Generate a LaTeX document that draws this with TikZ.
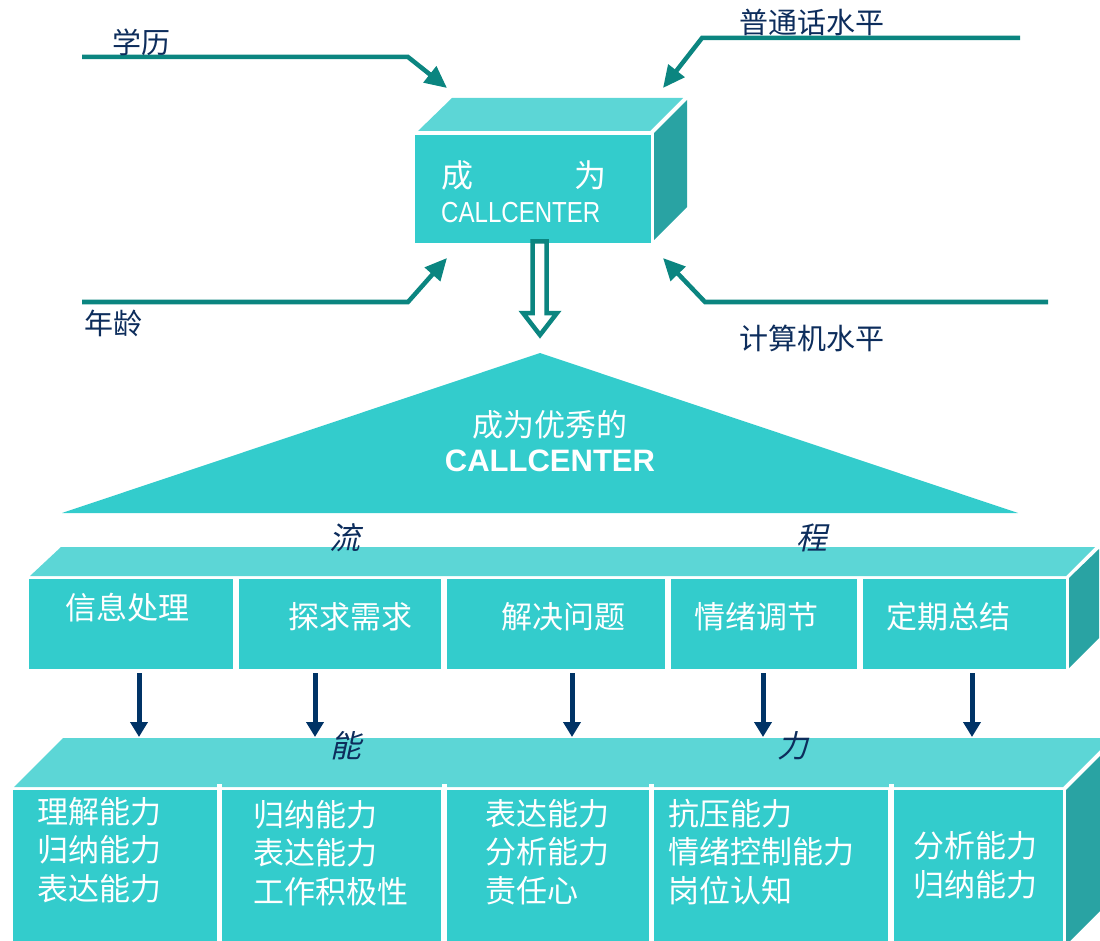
\documentclass[tikz,border=0pt]{standalone}
\usepackage{fontspec}
\setmainfont{Liberation Sans}
\newfontfamily\cjk{Noto Sans CJK SC}
\newfontfamily\cjksl[FakeSlant=0.22]{Noto Sans CJK SC}
\newfontfamily\narrowsans[FakeStretch=0.83]{Liberation Sans}
\usetikzlibrary{arrows.meta}
\definecolor{frontc}{HTML}{33CCCC}
\definecolor{topc}{HTML}{5CD6D6}
\definecolor{sidec}{HTML}{29A3A3}
\definecolor{tealc}{HTML}{0B8580}
\definecolor{navyc}{HTML}{003366}
\definecolor{labc}{HTML}{0D2D5C}
\begin{document}
\begin{tikzpicture}[x=1pt,y=-1pt,
  front/.style={fill=frontc, draw=none, inner sep=0pt, outer sep=0pt, anchor=north west},
  topf/.style={fill=topc},
  sidef/.style={fill=sidec},
  inarrow/.style={draw=tealc, line width=4.5pt, -{Triangle[length=22pt,width=20pt]}},
  downarrow/.style={draw=navyc, line width=5pt, -{Triangle[length=15pt,width=17pt]}},
  lab/.style={text=labc, font=\cjk\fontsize{29}{32}\selectfont, inner sep=0pt},
  itlab/.style={text=labc, font=\cjksl\fontsize{31}{34}\selectfont, inner sep=0pt},
  wtxt/.style={text=white, font=\cjk\fontsize{31}{38.5}\selectfont, inner sep=0pt, align=left},
  sep/.style={draw=white, line width=5pt},
]
\useasboundingbox (0,0) rectangle (1100,941);
\clip (0,0) rectangle (1100,941);

% ---------- top box ----------
\fill[topf] (418,131) -- (452,98) -- (683,98) -- (650,131) -- cycle;
\fill[sidef] (654,133) -- (687,100) -- (687,207) -- (654,240) -- cycle;
\node[front, minimum width=236pt, minimum height=108pt] (cc) at (415,135) {};
\node[text=white, font=\cjk\fontsize{32}{34}\selectfont, inner sep=0pt] (cheng) at (457,175) {成};
\node[text=white, font=\cjk\fontsize{32}{34}\selectfont, inner sep=0pt] (wei) at (590,175) {为};
\node[text=white, font=\narrowsans\fontsize{29}{32}\selectfont, inner sep=0pt, anchor=base west] (cct) at (441,223) {CALLCENTER};

% ---------- input arrows ----------
\coordinate (a1s) at (82,57);  \coordinate (a1m) at (408,57);  \coordinate (a1e) at (447,88);
\coordinate (a2s) at (1020,38); \coordinate (a2m) at (702,38); \coordinate (a2e) at (663,88);
\coordinate (a3s) at (82,302); \coordinate (a3m) at (408,302); \coordinate (a3e) at (447,258);
\coordinate (a4s) at (1048,302); \coordinate (a4m) at (705,302); \coordinate (a4e) at (663,258);
\draw[inarrow] (a1s) -- (a1m) -- (a1e);
\draw[inarrow] (a2s) -- (a2m) -- (a2e);
\draw[inarrow] (a3s) -- (a3m) -- (a3e);
\draw[inarrow] (a4s) -- (a4m) -- (a4e);
\node[lab] (xueli) at (141,42) {学历};
\node[lab] (pth) at (812,22) {普通话水平};
\node[lab] (nianling) at (113,323) {年龄};
\node[lab] (jsj) at (812,338) {计算机水平};

% ---------- hollow arrow ----------
\draw[draw=tealc, line width=4.5pt, fill=white, line join=miter]
  (532.5,241.5) -- (546.5,241.5) -- (546.5,313) -- (557,313) -- (540,335) -- (523,313) -- (532.5,313) -- cycle;

% ---------- triangle ----------
\fill[frontc] (62,513) -- (540,353) -- (1018,513) -- cycle;
\node[text=white, font=\cjk\fontsize{31}{34}\selectfont, inner sep=0pt] (tri1) at (550,425) {成为优秀的};
\node[text=white, font=\bfseries\fontsize{31}{34}\selectfont, inner sep=0pt] (tri2) at (550,461) {CALLCENTER};

% ---------- process bar ----------
\fill[topf] (30,576) -- (61,547) -- (1095,547) -- (1066,576) -- cycle;
\fill[sidef] (1069,578) -- (1099,549) -- (1099,638) -- (1069,668) -- cycle;
\node[front, minimum width=204pt, minimum height=90pt] (p1) at (29,579) {};
\node[front, minimum width=202pt, minimum height=90pt] (p2) at (239,579) {};
\node[front, minimum width=218pt, minimum height=90pt] (p3) at (447,579) {};
\node[front, minimum width=186pt, minimum height=90pt] (p4) at (671,579) {};
\node[front, minimum width=203pt, minimum height=90pt] (p5) at (863,579) {};
\node[wtxt] (t1) at (127,608) {信息处理};
\node[wtxt] (t2) at (350,617) {探求需求};
\node[wtxt] (t3) at (563,617) {解决问题};
\node[wtxt] (t4) at (756,617) {情绪调节};
\node[wtxt] (t5) at (948,617) {定期总结};
\node[itlab] (liu) at (345,538) {流};
\node[itlab] (chengl) at (812,538) {程};

% ---------- ability bar ----------
\fill[topf] (14,787) -- (63,738) -- (1112,738) -- (1063,787) -- cycle;
\fill[sidef] (1066,790) -- (1115,741) -- (1115,896) -- (1066,945) -- cycle;
\node[front, minimum width=204pt, minimum height=155pt] (b1) at (13,790) {};
\node[front, minimum width=219pt, minimum height=155pt] (b2) at (222,790) {};
\node[front, minimum width=202pt, minimum height=155pt] (b3) at (447,790) {};
\node[front, minimum width=234pt, minimum height=155pt] (b4) at (654,790) {};
\node[front, minimum width=169pt, minimum height=155pt] (b5) at (894,790) {};
\draw[sep] (219.5,784) -- (219.5,790);
\draw[sep] (444,784) -- (444,790);
\draw[sep] (651.5,784) -- (651.5,790);
\draw[sep] (891,784) -- (891,790);
\node[wtxt, anchor=west] (l1) at (37,850) {理解能力\\归纳能力\\表达能力};
\node[wtxt, anchor=west] (l2) at (253,853) {归纳能力\\表达能力\\工作积极性};
\node[wtxt, anchor=west] (l3) at (485,852) {表达能力\\分析能力\\责任心};
\node[wtxt, anchor=west] (l4) at (668,852) {抗压能力\\情绪控制能力\\岗位认知};
\node[wtxt, anchor=west] (l5) at (913,865) {分析能力\\归纳能力};
\node[itlab] (neng) at (346,746) {能};
\node[itlab] (li) at (793,746) {力};

% ---------- down arrows ----------
\coordinate (d1s) at (139,673); \coordinate (d1e) at (139,737);
\coordinate (d2s) at (315,673); \coordinate (d2e) at (315,737);
\coordinate (d3s) at (572,673); \coordinate (d3e) at (572,737);
\coordinate (d4s) at (763,673); \coordinate (d4e) at (763,737);
\coordinate (d5s) at (972,673); \coordinate (d5e) at (972,737);
\draw[downarrow] (d1s) -- (d1e);
\draw[downarrow] (d2s) -- (d2e);
\draw[downarrow] (d3s) -- (d3e);
\draw[downarrow] (d4s) -- (d4e);
\draw[downarrow] (d5s) -- (d5e);
\end{tikzpicture}
\end{document}
